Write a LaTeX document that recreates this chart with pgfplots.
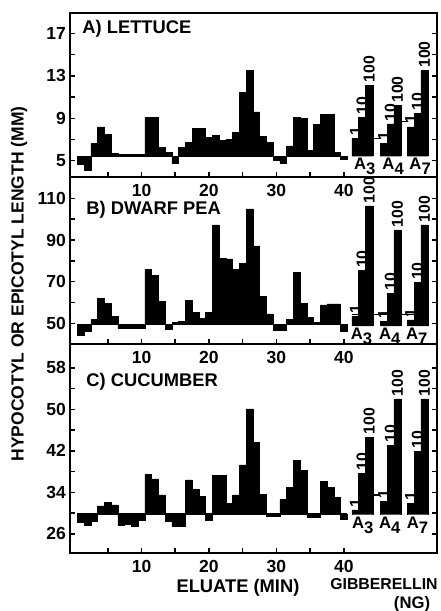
\documentclass[border=0pt]{standalone}
\usepackage{pgfplots}
\pgfplotsset{compat=1.18}
\usepackage{fontspec}
\setmainfont{Liberation Sans}

\pgfplotsset{
  panel/.style={
    scale only axis, width=220.2pt,
    xmin=-0.6, xmax=53.8, clip=false,
    axis line style={line width=1.2pt},
    every tick/.style={black, line width=0.9pt},
    tick align=inside, major tick length=3pt,
    xtick={5,10,...,40}, xticklabels={,10,,20,,30,,40},
    xtick pos=left, ytick pos=both, yticklabel pos=left,
    ticklabel style={font=\fontsize{10.5}{12}\selectfont\bfseries},
    xticklabel style={yshift=-1pt},
    yticklabel style={xshift=1pt},
    /pgf/number format/assume math mode=true,
  },
  bars/.style={const plot, fill=black, draw=black, line width=0.3pt},
  base/.style={black, line width=0.9pt},
}
\tikzset{
  std/.style={rotate=90, anchor=west, inner sep=1.5pt, font=\fontsize{9.5}{11}\selectfont\bfseries},
  ttl/.style={anchor=west, inner sep=0pt, font=\fontsize{11}{13}\selectfont\bfseries},
  an/.style={anchor=north, inner sep=1pt, font=\fontsize{10}{11}\selectfont\bfseries},
}

\begin{document}
\begin{tikzpicture}

% A) lettuce
\begin{axis}[panel, at={(42pt,-7.8pt)}, anchor=north west, height=98.4pt,
  ymin=3.46, ymax=18.93, ytick={5,7,...,17}, yticklabels={5,,9,,13,,17}]
\addplot[bars] coordinates {(0.5,5.4) (0.5,4.7) (1.5,4.07) (2.5,6.64) (3.5,8.2) (4.5,7.5)
  (5.5,5.7) (6.5,5.6) (7.5,5.6) (8.5,5.6) (9.5,5.6) (10.5,9.1) (11.5,9.1) (12.5,6.26)
  (13.5,5.75) (14.5,4.8) (15.5,6.25) (16.5,6.7) (17.5,8.05) (18.5,8.05) (19.5,7.2)
  (20.5,7.36) (21.5,6.95) (22.5,7.0) (23.5,7.68) (24.5,11.45) (25.5,13.5) (26.5,9.6)
  (27.5,7.26) (28.5,6.7) (29.5,5.0) (30.5,4.75) (31.5,6.4) (32.5,9.05) (33.5,9.0)
  (34.5,5.94) (35.5,8.43) (36.5,9.4) (37.5,9.35) (38.5,5.8) (39.5,5.13) (40.5,5.4)};
\addplot[base] coordinates {(0.5,5.4) (40.5,5.4)};
\addplot[base] coordinates {(44.3,7.1) (45.4,7.1)};
\addplot[base] coordinates {(48.5,8.7) (49.4,8.7)};
% standards 1, 10, 100 ng
\addplot[bars] coordinates {(41.2,5.4) (41.2,7.1) (42.2,9.1) (43.2,12.1) (44.3,5.4)};
\addplot[bars] coordinates {(45.4,5.4) (45.4,6.6) (46.4,8.46) (47.4,10.2) (48.5,5.4)};
\addplot[bars] coordinates {(49.4,5.4) (49.4,8.2) (50.4,9.47) (51.4,13.5) (52.5,5.4)};
\node[std] at (axis cs:41.7,7.1) {1};
\node[std] at (axis cs:42.7,9.1) {10};
\node[std] at (axis cs:43.75,12.1) {100};
\node[std] at (axis cs:45.9,6.6) {1};
\node[std] at (axis cs:46.9,8.46) {10};
\node[std] at (axis cs:47.95,10.2) {100};
\node[std] at (axis cs:49.9,8.2) {1};
\node[std] at (axis cs:50.9,9.47) {10};
\node[std] at (axis cs:51.95,13.5) {100};
\node[an] at (axis cs:43.1,5.4) {A\raisebox{-3pt}{3}};
\node[an] at (axis cs:47.3,5.4) {A\raisebox{-3pt}{4}};
\node[an] at (axis cs:51.3,5.4) {A\raisebox{-3pt}{7}};
\node[ttl] at (rel axis cs:0.033,0.902) {A) LETTUCE};
\end{axis}

% B) dwarf pea
\begin{axis}[panel, at={(42pt,-106.2pt)}, anchor=north west, height=100.2pt,
  ymin=40.05, ymax=120.3, ytick={50,60,...,110}, yticklabels={50,,70,,90,,110}]
\addplot[base] coordinates {(41.2,54.3) (50.4,54.3)};
\addplot[bars] coordinates {(0.5,49.5) (0.5,44.4) (1.5,46.0) (2.5,51.9) (3.5,62.0) (4.5,59.6)
  (5.5,53.2) (6.5,47.6) (7.5,47.8) (8.5,47.8) (9.5,47.8) (10.5,76.0) (11.5,73.2) (12.5,60.4)
  (13.5,47.1) (14.5,50.3) (15.5,51.0) (16.5,60.9) (17.5,55.1) (18.5,52.4) (19.5,55.1)
  (20.5,97.3) (21.5,81.3) (22.5,81.0) (23.5,76.0) (24.5,78.8) (25.5,105.0) (26.5,87.2)
  (27.5,62.8) (28.5,54.5) (29.5,46.6) (30.5,46.9) (31.5,51.9) (32.5,74.6) (33.5,59.5)
  (34.5,53.0) (35.5,50.5) (36.5,58.8) (37.5,59.3) (38.5,59.3) (39.5,46.0) (40.5,49.5)};
\addplot[base] coordinates {(0.5,49.5) (40.5,49.5)};
\addplot[bars] coordinates {(41.2,48.7) (41.2,53.2) (42.2,75.3) (43.2,106.4) (44.3,48.7)};
\addplot[bars] coordinates {(45.4,48.7) (45.4,50.8) (46.4,64.4) (47.4,94.9) (48.5,48.7)};
\addplot[bars] coordinates {(49.4,48.7) (49.4,51.6) (50.4,69.5) (51.4,97.3) (52.5,48.7)};
\node[std] at (axis cs:41.7,53.2) {1};
\node[std] at (axis cs:42.7,75.3) {10};
\node[std] at (axis cs:43.75,106.4) {100};
\node[std] at (axis cs:45.9,50.8) {1};
\node[std] at (axis cs:46.9,64.4) {10};
\node[std] at (axis cs:47.95,94.9) {100};
\node[std] at (axis cs:49.9,51.6) {1};
\node[std] at (axis cs:50.9,69.5) {10};
\node[std] at (axis cs:51.95,97.3) {100};
\node[an] at (axis cs:42.6,48.7) {A\raisebox{-3pt}{3}};
\node[an] at (axis cs:46.8,48.7) {A\raisebox{-3pt}{4}};
\node[an] at (axis cs:50.8,48.7) {A\raisebox{-3pt}{7}};
\node[ttl] at (rel axis cs:0.044,0.802) {B) DWARF PEA};
\end{axis}

% C) cucumber
\begin{axis}[panel, at={(42pt,-206.4pt)}, anchor=north west, height=125.4pt,
  ymin=22.3, ymax=62.6, ytick={26,30,...,58}, yticklabels={26,,34,,42,,50,,58}]
\addplot[bars] coordinates {(0.5,29.8) (0.5,28.2) (1.5,27.7) (2.5,28.4) (3.5,31.4) (4.5,32.0)
  (5.5,31.6) (6.5,27.6) (7.5,27.9) (8.5,27.5) (9.5,28.7) (10.5,37.4) (11.5,36.6) (12.5,33.5)
  (13.5,28.4) (14.5,27.4) (15.5,27.4) (16.5,36.4) (17.5,34.6) (18.5,33.2) (19.5,28.6)
  (20.5,37.2) (21.5,37.2) (22.5,31.9) (23.5,33.5) (24.5,39.3) (25.5,50.1) (26.5,43.6)
  (27.5,33.6) (28.5,29.3) (29.5,29.3) (30.5,32.7) (31.5,35.0) (32.5,40.1) (33.5,38.2)
  (34.5,29.1) (35.5,29.1) (36.5,36.1) (37.5,35.0) (38.5,33.0) (39.5,28.8) (40.5,29.8)};
\addplot[base] coordinates {(0.5,29.8) (40.5,29.8)};
\addplot[base] coordinates {(44.3,33.5) (45.4,33.5)};
\addplot[bars] coordinates {(41.2,29.7) (41.2,30.6) (42.2,37.7) (43.2,44.6) (44.3,29.7)};
\addplot[bars] coordinates {(45.4,29.7) (45.4,32.2) (46.4,43.1) (47.4,52.0) (48.5,29.7)};
\addplot[bars] coordinates {(49.4,29.7) (49.4,31.8) (50.4,41.9) (51.4,52.0) (52.5,29.7)};
\node[std] at (axis cs:41.7,30.6) {1};
\node[std] at (axis cs:42.7,37.7) {10};
\node[std] at (axis cs:43.75,44.6) {100};
\node[std] at (axis cs:45.9,32.2) {1};
\node[std] at (axis cs:46.9,43.1) {10};
\node[std] at (axis cs:47.95,52.0) {100};
\node[std] at (axis cs:49.9,31.8) {1};
\node[std] at (axis cs:50.9,41.9) {10};
\node[std] at (axis cs:51.95,52.0) {100};
\node[an] at (axis cs:42.8,29.7) {A\raisebox{-3pt}{3}};
\node[an] at (axis cs:46.8,29.7) {A\raisebox{-3pt}{4}};
\node[an] at (axis cs:50.9,29.7) {A\raisebox{-3pt}{7}};
\node[ttl] at (rel axis cs:0.044,0.82) {C) CUCUMBER};
\end{axis}

\node[rotate=90, font=\fontsize{10.5}{12}\selectfont\bfseries] at (11.4pt,-170.4pt)
  {HYPOCOTYL OR EPICOTYL LENGTH (MM)};
\node[font=\fontsize{11}{13}\selectfont\bfseries] at (142.8pt,-352.8pt) {ELUATE (MIN)};
\node[font=\fontsize{9.5}{11}\selectfont\bfseries] at (230.4pt,-350.4pt) {GIBBERELLIN};
\node[font=\fontsize{10}{12}\selectfont\bfseries] at (247.2pt,-362.4pt) {(NG)};

\pgfresetboundingbox
\path (0,0) rectangle (264.6pt,-366.6pt);
\end{tikzpicture}
\end{document}
